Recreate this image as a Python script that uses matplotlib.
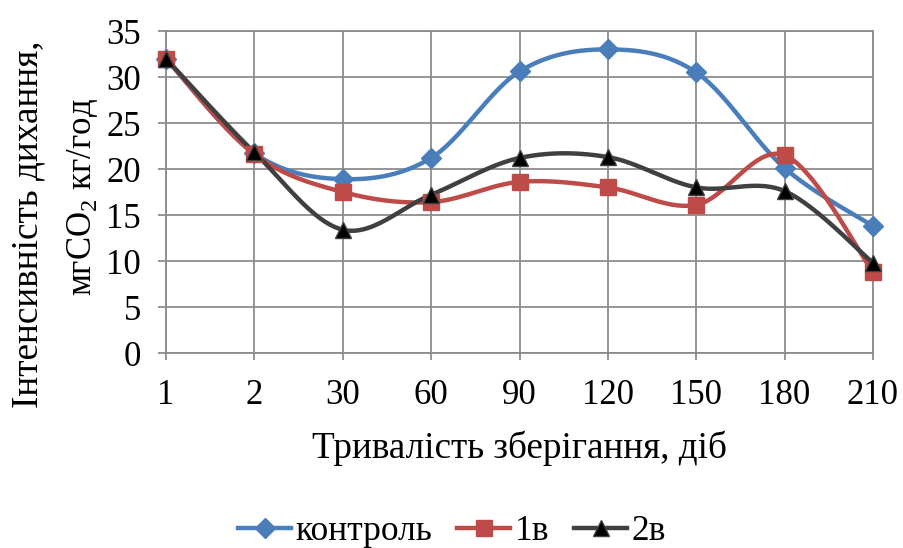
import numpy as np
import matplotlib
matplotlib.use("Agg")
import matplotlib.pyplot as plt

plt.rcParams['font.family'] = ['Liberation Serif', 'DejaVu Serif']
plt.rcParams['mathtext.fontset'] = 'custom'
plt.rcParams['mathtext.rm'] = 'Liberation Serif'

categories = ['1', '2', '30', '60', '90', '120', '150', '180', '210']
control = [32.0, 21.7, 18.9, 21.2, 30.6, 33.0, 30.5, 20.1, 13.8]
v1 = [32.0, 21.6, 17.5, 16.4, 18.6, 18.0, 16.1, 21.5, 8.8]
v2 = [32.0, 21.8, 13.4, 17.2, 21.2, 21.3, 18.0, 17.6, 9.8]

FS = 25


def smooth(x, y, n=30):
    # Bezier smoothing through the points (like Excel smoothed lines)
    x = np.asarray(x, float)
    y = np.asarray(y, float)
    px, py = [], []
    m = len(x)
    for i in range(m - 1):
        x0, y0 = (x[i - 1], y[i - 1]) if i > 0 else (x[i], y[i])
        x1, y1 = x[i], y[i]
        x2, y2 = x[i + 1], y[i + 1]
        x3, y3 = (x[i + 2], y[i + 2]) if i + 2 < m else (x[i + 1], y[i + 1])
        c1x, c1y = x1 + (x2 - x0) / 6, y1 + (y2 - y0) / 6
        c2x, c2y = x2 - (x3 - x1) / 6, y2 - (y3 - y1) / 6
        t = np.linspace(0, 1, n)
        bx = (1-t)**3*x1 + 3*(1-t)**2*t*c1x + 3*(1-t)*t**2*c2x + t**3*x2
        by = (1-t)**3*y1 + 3*(1-t)**2*t*c1y + 3*(1-t)*t**2*c2y + t**3*y2
        px.extend(bx)
        py.extend(by)
    return np.array(px), np.array(py)


fig = plt.figure(figsize=(9.04, 5.48), dpi=100)
ax = fig.add_axes([166/904, 1-353/548, (873-166)/904, (353-31)/548])

x = np.arange(len(categories))
series = [
    ('контроль', control, '#4a7ebb', 'D', '#4a7ebb', '#4a7ebb', 10),
    ('1в', v1, '#be4b48', 's', '#be4b48', '#be4b48', 11.5),
    ('2в', v2, '#404040', '^', '#000000', '#404040', 11.5),
]
handles = []
for name, vals, col, mk, mfc, mec, ms in series:
    sx, sy = smooth(x, vals)
    ax.plot(sx, sy, color=col, lw=3.2, zorder=3, solid_capstyle='round',
            clip_on=False)
    ax.plot(x, vals, linestyle='none', marker=mk, markersize=ms,
            markerfacecolor=mfc, markeredgecolor=mec,
            markeredgewidth=1, zorder=4, clip_on=False)
    h, = ax.plot([], [], color=col, lw=3.2, marker=mk, markersize=ms,
                 markerfacecolor=mfc, markeredgecolor=mec)
    handles.append((h, name))

ax.set_xlim(0, len(categories) - 1)
ax.set_ylim(0, 35)
ax.set_xticks(x)
ax.set_xticklabels(categories)
ax.set_yticks(np.arange(0, 36, 5))
ax.grid(True, color='#8c8c8c', lw=1.3)
ax.set_axisbelow(True)
for s in ax.spines.values():
    s.set_color('#8c8c8c')
    s.set_linewidth(1.3)
ax.tick_params(axis='both', labelsize=FS, colors='#8c8c8c', labelcolor='black',
               width=1.3)
ax.tick_params(axis='x', length=5, pad=14)
ax.tick_params(axis='y', length=6, pad=12)

ax.set_xlabel('Тривалість зберігання, діб', fontsize=26.7, labelpad=13)
fig.text(28/904, 1-224/548, 'Інтенсивність дихання,',
         rotation=90, ha='center', va='center', fontsize=26.8)
fig.text(83/904, 1-197/548, 'мгCO$_2$ кг/год',
         rotation=90, ha='center', va='center', fontsize=FS)

fig.legend([h for h, _ in handles], [n for _, n in handles],
           loc='center', bbox_to_anchor=(0.5, 1-532/548), ncol=3, frameon=False,
           fontsize=25.5, handlelength=1.5, columnspacing=0.7, handletextpad=0.12,
           borderpad=0, borderaxespad=0)

fig.savefig('out.png', dpi=100)
